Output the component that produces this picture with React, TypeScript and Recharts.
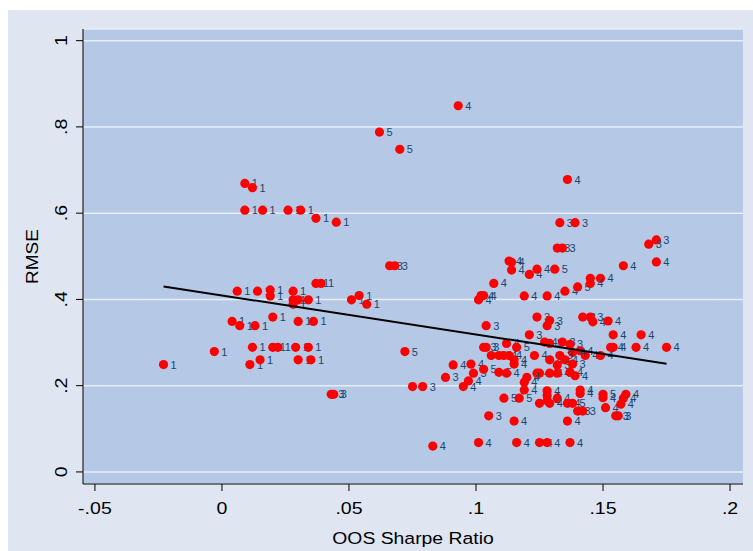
import { CartesianGrid, Label, Scatter, ScatterChart, XAxis, YAxis } from 'recharts';

document.body.style.margin = '0';

// OOS Sharpe ratio (x), RMSE (y) and the marker label of each model
const sharpe = [
  0.009, 0.012, 0.009, 0.016, 0.026, 0.031, 0.037, 0.045, 0.006, 0.014,
  0.019, 0.019, 0.028, 0.037, 0.039, 0.028, 0.028, 0.030, 0.034, 0.051,
  0.054, 0.057, 0.004, 0.007, 0.013, 0.020, 0.030, 0.036, 0.012, 0.020,
  0.022, 0.029, 0.034, -0.003, -0.023, 0.011, 0.015, 0.030, 0.035,
  0.093, 0.062, 0.070, 0.136, 0.133, 0.139, 0.132, 0.134, 0.171, 0.168,
  0.171, 0.158, 0.066, 0.068, 0.113, 0.114, 0.114, 0.121, 0.124, 0.131,
  0.107, 0.101, 0.102, 0.103, 0.119, 0.128, 0.135, 0.140, 0.145, 0.149,
  0.145, 0.104, 0.124, 0.129, 0.128, 0.121, 0.142, 0.145, 0.146, 0.152,
  0.154, 0.165, 0.103, 0.104, 0.112, 0.116, 0.127, 0.129, 0.134, 0.137,
  0.141, 0.153, 0.154, 0.163, 0.175, 0.143, 0.149, 0.138, 0.106, 0.109,
  0.111, 0.113, 0.115, 0.123, 0.129, 0.133, 0.135, 0.072, 0.091, 0.098,
  0.099, 0.103, 0.109, 0.112, 0.115, 0.132, 0.124, 0.125, 0.129, 0.132,
  0.138, 0.137, 0.139, 0.088, 0.097, 0.095, 0.075, 0.079, 0.043, 0.044,
  0.120, 0.119, 0.119, 0.128, 0.128, 0.128, 0.132, 0.136, 0.138, 0.141,
  0.141, 0.125, 0.111, 0.117, 0.105, 0.115, 0.136, 0.140, 0.142, 0.150,
  0.150, 0.151, 0.159, 0.158, 0.157, 0.155, 0.156, 0.083, 0.101, 0.116,
  0.125, 0.128, 0.137, 0.129,
];
const rmse = [
  0.669, 0.659, 0.607, 0.607, 0.607, 0.607, 0.588, 0.579, 0.419, 0.419,
  0.422, 0.408, 0.419, 0.437, 0.437, 0.399, 0.389, 0.399, 0.399, 0.399,
  0.409, 0.389, 0.349, 0.339, 0.339, 0.359, 0.349, 0.349, 0.289, 0.289,
  0.289, 0.289, 0.289, 0.279, 0.249, 0.249, 0.260, 0.260, 0.260,
  0.849, 0.788, 0.748, 0.678, 0.578, 0.578, 0.519, 0.519, 0.538, 0.528,
  0.487, 0.478, 0.478, 0.478, 0.489, 0.486, 0.468, 0.458, 0.470, 0.470,
  0.437, 0.399, 0.409, 0.409, 0.408, 0.408, 0.419, 0.429, 0.449, 0.449,
  0.437, 0.339, 0.359, 0.351, 0.339, 0.318, 0.359, 0.359, 0.348, 0.350,
  0.318, 0.318, 0.289, 0.289, 0.298, 0.289, 0.301, 0.298, 0.301, 0.296,
  0.281, 0.289, 0.289, 0.289, 0.289, 0.270, 0.270, 0.277, 0.270, 0.270,
  0.270, 0.270, 0.260, 0.270, 0.260, 0.270, 0.260, 0.279, 0.248, 0.250,
  0.229, 0.238, 0.231, 0.229, 0.250, 0.248, 0.229, 0.229, 0.229, 0.229,
  0.250, 0.231, 0.223, 0.219, 0.211, 0.198, 0.198, 0.198, 0.180, 0.180,
  0.219, 0.208, 0.190, 0.188, 0.177, 0.165, 0.171, 0.159, 0.159, 0.190,
  0.182, 0.159, 0.171, 0.171, 0.130, 0.118, 0.118, 0.141, 0.141, 0.180,
  0.172, 0.149, 0.180, 0.171, 0.157, 0.130, 0.130, 0.060, 0.068, 0.068,
  0.068, 0.068, 0.068, 0.159,
];
const group = [
  1, 1, 1, 1, 1, 1, 1, 1, 1, 1,
  1, 1, 1, 1, 1, 1, 1, 1, 1, 1,
  1, 1, 1, 1, 1, 1, 1, 1, 1, 1,
  1, 1, 1, 1, 1, 1, 1, 1, 1,
  4, 5, 5, 4, 3, 3, 3, 3, 3, 3,
  4, 4, 3, 3, 4, 4, 4, 4, 4, 5,
  4, 4, 4, 4, 4, 4, 4, 5, 4, 4,
  4, 3, 3, 3, 3, 3, 3, 3, 4, 4,
  4, 4, 3, 3, 4, 5, 4, 3, 3, 3,
  4, 4, 4, 4, 4, 4, 4, 4, 4, 4,
  4, 4, 4, 4, 4, 3, 4, 5, 4, 4,
  3, 5, 5, 4, 4, 3, 4, 4, 4, 4,
  3, 4, 4, 3, 4, 4, 3, 3, 3, 3,
  4, 4, 4, 4, 4, 4, 4, 4, 5, 4,
  4, 4, 5, 5, 3, 4, 4, 3, 3, 5,
  4, 4, 4, 4, 4, 3, 3, 4, 4, 4,
  4, 4, 4, 4,
];

// linear fit line endpoints
const fitX = [-0.023, 0.175];
const fitY = [0.43, 0.251];

const xTicks = [-0.05, 0, 0.05, 0.1, 0.15, 0.2];
const yTicks = [0, 0.2, 0.4, 0.6, 0.8, 1];

const points = sharpe.map((x, i) => ({ x, y: rmse[i], g: group[i] }));
const fit = fitX.map((x, i) => ({ x, y: fitY[i] }));

const FONT = '"Liberation Sans", Arial, sans-serif';
const fmt = (v: number) => String(v).replace('0.', '.');

function Dot(props: any) {
  const { cx, cy, payload } = props;
  return (
    <g>
      <circle cx={cx} cy={cy} r={4.6} fill="#ff0000" />
      <text x={cx + 7} y={cy + 4} fontSize={11} fontFamily={FONT} fill="#1a476f">
        {payload.g}
      </text>
    </g>
  );
}

// the Stata font runs a bit wider than Arial, so stretch along the text
function XTick({ x, y, payload }: any) {
  return (
    <text
      transform={`translate(${x} ${y + 21}) scale(1.15 1)`}
      textAnchor="middle"
      fontSize={17}
      fontFamily={FONT}
      fill="#000"
    >
      {fmt(payload.value)}
    </text>
  );
}

function YTick({ x, y, payload }: any) {
  return (
    <text
      transform={`translate(${x - 7} ${y}) rotate(-90) scale(1.15 1)`}
      textAnchor="middle"
      fontSize={17}
      fontFamily={FONT}
      fill="#000"
    >
      {fmt(payload.value)}
    </text>
  );
}

export default function App() {
  return (
    <div style={{ padding: '10px 0 0 8px' }}>
      <div style={{ width: 745, height: 541, background: '#dfe6f2' }}>
        <ScatterChart width={745} height={541} margin={{ top: 19, right: 10, left: 0, bottom: 0 }}>
          <CartesianGrid vertical={false} fill="#b5c9e6" fillOpacity={1} stroke="#e6eef7" strokeWidth={1.5} />
          <XAxis
            type="number"
            dataKey="x"
            domain={[-0.0547, 0.2051]}
            ticks={xTicks}
            interval={0}
            allowDataOverflow
            height={67}
            tickSize={7}
            stroke="#000"
            tick={<XTick />}
          >
            <Label
              content={({ viewBox }: any) => (
                <text
                  transform={`translate(${viewBox.x + viewBox.width / 2} ${viewBox.y + 60}) scale(1.14 1)`}
                  textAnchor="middle"
                  fontSize={17}
                  fontFamily={FONT}
                  fill="#000"
                >
                  OOS Sharpe Ratio
                </text>
              )}
            />
          </XAxis>
          <YAxis
            type="number"
            dataKey="y"
            domain={[-0.028, 1.027]}
            ticks={yTicks}
            interval={0}
            allowDataOverflow
            width={75}
            tickSize={7}
            stroke="#000"
            tick={<YTick />}
          >
            <Label
              content={({ viewBox }: any) => (
                <text
                  transform={`translate(${viewBox.x + 30} ${viewBox.y + viewBox.height / 2}) rotate(-90) scale(1.12 1)`}
                  textAnchor="middle"
                  fontSize={17}
                  fontFamily={FONT}
                  fill="#000"
                >
                  RMSE
                </text>
              )}
            />
          </YAxis>
          <Scatter data={points} shape={<Dot />} isAnimationActive={false} />
          <Scatter
            data={fit}
            line={{ stroke: '#000', strokeWidth: 2 }}
            lineType="joint"
            shape={() => <g />}
            isAnimationActive={false}
          />
        </ScatterChart>
      </div>
    </div>
  );
}
